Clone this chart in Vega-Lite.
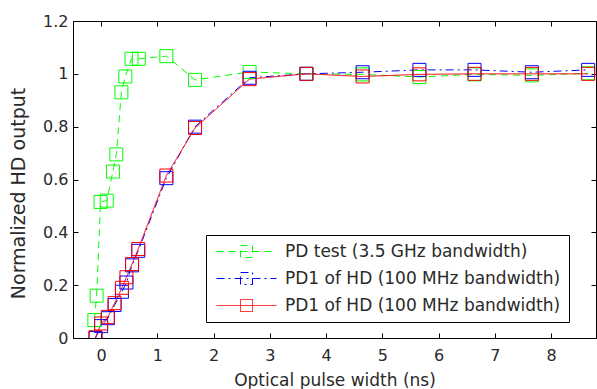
{
  "$schema": "https://vega.github.io/schema/vega-lite/v6.json",
  "width": 523,
  "height": 317,
  "autosize": {"type": "none"},
  "padding": {"left": 73, "top": 21, "right": 1, "bottom": 51},
  "background": "white",
  "config": {
    "view": {"stroke": "black", "strokeWidth": 1},
    "font": "DejaVu Sans",
    "axis": {
      "grid": false,
      "domainColor": "black",
      "tickColor": "black",
      "labelColor": "#2a2a2a",
      "titleColor": "#2a2a2a",
      "labelFont": "DejaVu Sans",
      "titleFont": "DejaVu Sans",
      "labelFontSize": 16,
      "titleFontSize": 17,
      "titleFontWeight": "normal",
      "tickSize": -5
    },
    "legend": {
      "orient": "none",
      "legendX": 133,
      "legendY": 214,
      "strokeColor": "black",
      "fillColor": "white",
      "padding": 8,
      "labelFont": "DejaVu Sans",
      "labelFontSize": 17,
      "labelColor": "#2a2a2a",
      "labelLimit": 500,
      "symbolType": "M-5,0H5M-1,-1H1V1H-1Z",
      "symbolSize": 144,
      "symbolStrokeWidth": 1,
      "symbolFillColor": "transparent",
      "symbolOffset": 24,
      "labelOffset": 30,
      "rowPadding": 9,
      "title": null
    }
  },
  "data": {
    "values": [
      {"series": "PD test (3.5 GHz bandwidth)", "x": -0.12, "y": 0.068},
      {"series": "PD test (3.5 GHz bandwidth)", "x": -0.08, "y": 0.16},
      {"series": "PD test (3.5 GHz bandwidth)", "x": -0.01, "y": 0.515},
      {"series": "PD test (3.5 GHz bandwidth)", "x": 0.1, "y": 0.52},
      {"series": "PD test (3.5 GHz bandwidth)", "x": 0.21, "y": 0.63},
      {"series": "PD test (3.5 GHz bandwidth)", "x": 0.27, "y": 0.695},
      {"series": "PD test (3.5 GHz bandwidth)", "x": 0.36, "y": 0.93},
      {"series": "PD test (3.5 GHz bandwidth)", "x": 0.43, "y": 0.99},
      {"series": "PD test (3.5 GHz bandwidth)", "x": 0.54, "y": 1.057},
      {"series": "PD test (3.5 GHz bandwidth)", "x": 0.67, "y": 1.057},
      {"series": "PD test (3.5 GHz bandwidth)", "x": 1.16, "y": 1.067},
      {"series": "PD test (3.5 GHz bandwidth)", "x": 1.67, "y": 0.977},
      {"series": "PD test (3.5 GHz bandwidth)", "x": 2.64, "y": 1.007},
      {"series": "PD test (3.5 GHz bandwidth)", "x": 3.65, "y": 1.0},
      {"series": "PD test (3.5 GHz bandwidth)", "x": 4.65, "y": 0.998},
      {"series": "PD test (3.5 GHz bandwidth)", "x": 5.66, "y": 0.988},
      {"series": "PD test (3.5 GHz bandwidth)", "x": 6.64, "y": 0.998},
      {"series": "PD test (3.5 GHz bandwidth)", "x": 7.66, "y": 0.994},
      {"series": "PD test (3.5 GHz bandwidth)", "x": 8.66, "y": 1.002},
      {"series": "PD1 of HD (100 MHz bandwidth)", "x": -0.1, "y": 0.0},
      {"series": "PD1 of HD (100 MHz bandwidth)", "x": 0.0, "y": 0.045},
      {"series": "PD1 of HD (100 MHz bandwidth)", "x": 0.12, "y": 0.075},
      {"series": "PD1 of HD (100 MHz bandwidth)", "x": 0.24, "y": 0.125},
      {"series": "PD1 of HD (100 MHz bandwidth)", "x": 0.37, "y": 0.175},
      {"series": "PD1 of HD (100 MHz bandwidth)", "x": 0.45, "y": 0.21},
      {"series": "PD1 of HD (100 MHz bandwidth)", "x": 0.55, "y": 0.275},
      {"series": "PD1 of HD (100 MHz bandwidth)", "x": 0.66, "y": 0.33},
      {"series": "PD1 of HD (100 MHz bandwidth)", "x": 1.16, "y": 0.605},
      {"series": "PD1 of HD (100 MHz bandwidth)", "x": 1.67, "y": 0.8},
      {"series": "PD1 of HD (100 MHz bandwidth)", "x": 2.64, "y": 0.985},
      {"series": "PD1 of HD (100 MHz bandwidth)", "x": 3.65, "y": 1.0},
      {"series": "PD1 of HD (100 MHz bandwidth)", "x": 4.65, "y": 1.006},
      {"series": "PD1 of HD (100 MHz bandwidth)", "x": 5.66, "y": 1.015},
      {"series": "PD1 of HD (100 MHz bandwidth)", "x": 6.64, "y": 1.015},
      {"series": "PD1 of HD (100 MHz bandwidth)", "x": 7.66, "y": 1.006},
      {"series": "PD1 of HD (100 MHz bandwidth)", "x": 8.66, "y": 1.015},
      {"series": "PD1 of HD (100 MHz bandwidth) ", "x": -0.1, "y": 0.003},
      {"series": "PD1 of HD (100 MHz bandwidth) ", "x": 0.0, "y": 0.055},
      {"series": "PD1 of HD (100 MHz bandwidth) ", "x": 0.12, "y": 0.08},
      {"series": "PD1 of HD (100 MHz bandwidth) ", "x": 0.24, "y": 0.132},
      {"series": "PD1 of HD (100 MHz bandwidth) ", "x": 0.37, "y": 0.19},
      {"series": "PD1 of HD (100 MHz bandwidth) ", "x": 0.45, "y": 0.23},
      {"series": "PD1 of HD (100 MHz bandwidth) ", "x": 0.55, "y": 0.28},
      {"series": "PD1 of HD (100 MHz bandwidth) ", "x": 0.66, "y": 0.337},
      {"series": "PD1 of HD (100 MHz bandwidth) ", "x": 1.16, "y": 0.615},
      {"series": "PD1 of HD (100 MHz bandwidth) ", "x": 1.67, "y": 0.795},
      {"series": "PD1 of HD (100 MHz bandwidth) ", "x": 2.64, "y": 0.98},
      {"series": "PD1 of HD (100 MHz bandwidth) ", "x": 3.65, "y": 1.0},
      {"series": "PD1 of HD (100 MHz bandwidth) ", "x": 4.65, "y": 0.99},
      {"series": "PD1 of HD (100 MHz bandwidth) ", "x": 5.66, "y": 0.998},
      {"series": "PD1 of HD (100 MHz bandwidth) ", "x": 6.64, "y": 1.0},
      {"series": "PD1 of HD (100 MHz bandwidth) ", "x": 7.66, "y": 1.0},
      {"series": "PD1 of HD (100 MHz bandwidth) ", "x": 8.66, "y": 1.0}
    ]
  },
  "layer": [
    {
      "mark": {"type": "line", "strokeWidth": 1, "clip": true},
      "encoding": {
        "x": {"field": "x", "type": "quantitative",
              "scale": {"domain": [-0.5, 8.8], "nice": false, "zero": false},
              "axis": {"values": [0,1,2,3,4,5,6,7,8], "title": "Optical pulse width (ns)", "labelPadding": 14, "titlePadding": 9}},
        "y": {"field": "y", "type": "quantitative",
              "scale": {"domain": [0, 1.2], "nice": false},
              "axis": {"values": [0,0.2,0.4,0.6,0.8,1,1.2], "format": "~g", "title": "Normalized HD output", "labelPadding": 10, "titleFontSize": 19, "titlePadding": 14, "titleY": 172}},
        "color": {"field": "series", "type": "nominal",
                  "scale": {"domain": ["PD test (3.5 GHz bandwidth)", "PD1 of HD (100 MHz bandwidth)", "PD1 of HD (100 MHz bandwidth) "],
                            "range": ["#00ff00", "#0000ff", "#ff0000"]}},
        "strokeDash": {"field": "series", "type": "nominal",
                       "scale": {"domain": ["PD test (3.5 GHz bandwidth)", "PD1 of HD (100 MHz bandwidth)", "PD1 of HD (100 MHz bandwidth) "],
                                 "range": [[7, 5], [8, 4, 2, 4], [1, 0]]}},
        "order": {"field": "x", "type": "quantitative"}
      }
    },
    {
      "mark": {"type": "point", "shape": "square", "filled": false, "size": 169, "strokeWidth": 1, "opacity": 1, "clip": true},
      "encoding": {
        "x": {"field": "x", "type": "quantitative",
              "axis": {"orient": "top", "values": [0,1,2,3,4,5,6,7,8], "labels": false, "title": null, "domain": false}},
        "y": {"field": "y", "type": "quantitative",
              "axis": {"orient": "right", "values": [0,0.2,0.4,0.6,0.8,1,1.2], "labels": false, "title": null, "domain": false}},
        "color": {"field": "series", "type": "nominal"}
      }
    }
  ],
  "resolve": {"axis": {"x": "independent", "y": "independent"}}
}
